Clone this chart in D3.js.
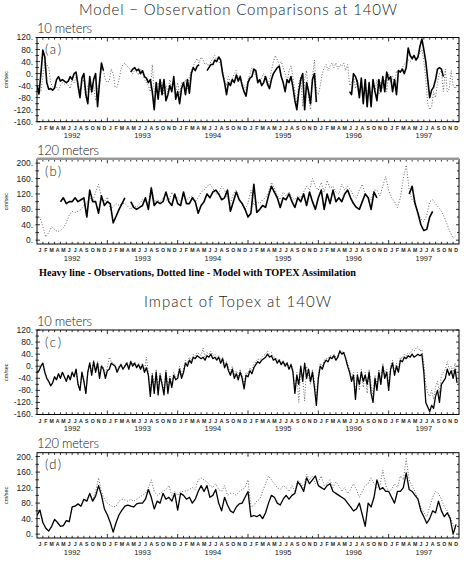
<!DOCTYPE html>
<html>
<head>
<meta charset="utf-8">
<script src="https://d3js.org/d3.v7.min.js"></script>
<style>
  body { margin: 0; background: #fff; }
  svg text { font-family: "Liberation Sans", Arial, sans-serif; }
  svg text.thin { font-family: Lato, "DejaVu Sans", sans-serif; font-weight: 300; }
</style>
</head>
<body>
<div id="viz"></div>
<script>
const monthLetters = ["J","F","M","A","M","J","J","A","S","O","N","D"];
const years = [1992, 1993, 1994, 1995, 1996, 1997];
const ticks10m = [-160, -120, -80, -40, 0, 40, 80, 120];
const ticks120m = [0, 40, 80, 120, 160, 200];

// (a) 10 m, observations, three values a month, null = no data
const obsA = [
  -40,-68,0,78,55,-30,-52,-50,-55,-48,-20,-10,-25,-20,-25,-30,-25,-10,-20,0,5,-40,-80,-15,0,-70,-100,-10,-60,-20,0,-110,-30,35,10,null,
  null,null,null,null,null,null,null,null,null,null,null,null,5,15,20,10,15,0,10,-10,-15,-30,-20,-60,-120,-30,-85,-20,-70,-20,-90,-70,-40,-60,-10,-85,
  -60,-100,-50,-30,-70,-20,-65,0,20,10,25,30,null,null,null,10,20,30,30,45,40,55,45,0,-30,-70,-30,-40,-20,-30,-5,-25,-10,-40,-60,-75,
  -30,-15,-10,15,10,-30,-20,-40,-30,-10,-35,-50,-20,0,10,20,25,-10,-30,-60,-20,-30,-10,-45,-90,-120,-60,-20,0,-120,-30,-60,-100,-20,0,-95,
  null,null,null,null,null,null,null,null,null,null,null,null,null,null,null,null,-60,-70,0,-10,-30,-80,-15,-100,-20,-110,-30,-110,-20,-60,-90,-20,-60,-10,-60,5,
  -20,-10,-60,-20,-70,10,5,15,0,20,85,60,50,60,45,55,90,115,80,40,-20,-80,-55,-45,-20,15,20,15,-10,null,null,null,null,null,null,null
];
// (a) 10 m, model with TOPEX assimilation
const modelA = [
  -30,-55,-60,-10,40,30,20,-30,-45,-50,-45,-55,-40,-30,-35,-30,-40,-50,-20,-30,-10,-30,-60,-30,-20,-80,-40,-30,-70,-40,-90,-50,-30,20,10,-20,
  -30,-25,15,0,-45,-45,-20,15,30,35,25,20,10,0,10,5,-5,15,5,-20,-30,-40,-60,30,-60,-50,-30,-60,-30,-70,-40,-60,-20,-50,-30,-60,
  -30,-70,-30,-40,-20,-50,-10,10,25,40,50,35,55,45,30,35,25,40,50,60,45,40,30,10,-20,-40,-10,-30,-15,0,10,-20,-5,-30,-40,-55,
  -20,0,20,10,-10,-20,-30,-15,0,-20,-40,-20,10,40,60,45,30,40,20,0,-30,10,25,-10,-60,-100,-30,-10,-110,-20,10,-80,-120,-10,45,-60,
  -70,-40,0,20,30,10,25,35,20,35,15,30,25,35,10,30,-40,-30,-10,-50,-20,-60,-30,-70,-20,-80,-40,-70,-30,-60,-20,-70,-30,-50,-20,-60,
  0,-30,-10,-40,10,0,10,20,30,40,45,40,45,55,50,60,70,80,40,-20,-100,-120,-110,-60,-80,-30,0,10,-60,15,-60,-50,10,-40,-50,-40
];
// (b) 120 m, observations, two values a month
const obsB = [
  null,null,null,null,null,null,null,null,100,110,95,100,100,110,100,105,110,60,130,100,100,70,115,90,
  100,95,45,62,80,95,110,null,100,85,80,85,90,110,80,135,90,100,95,100,125,100,90,120,
  95,90,125,95,95,110,100,70,90,100,120,110,125,130,120,105,110,130,75,100,125,105,95,80,
  60,70,145,72,80,90,85,115,140,125,110,85,110,105,120,100,85,110,100,120,90,125,100,80,
  110,130,80,120,95,130,100,110,100,120,130,110,95,85,80,100,120,110,80,125,110,null,null,null,
  null,null,null,null,null,null,null,120,140,95,70,40,25,28,60,75,null,null,null,null,null,null,null,null
];
// (b) 120 m, model with TOPEX assimilation
const modelB = [
  55,60,35,8,20,35,28,22,25,32,45,65,75,72,75,80,90,95,110,100,125,145,110,100,
  112,80,88,95,90,95,95,88,80,90,85,95,105,100,95,140,100,105,100,110,105,100,125,110,
  110,100,115,105,110,115,100,110,125,130,140,145,135,120,120,140,130,110,95,120,130,105,95,80,
  95,130,90,100,95,105,110,125,150,135,115,105,125,115,125,110,105,115,110,125,140,130,160,140,
  130,150,125,155,135,140,125,120,145,130,140,130,115,110,130,145,120,110,105,130,130,115,140,165,
  130,110,100,85,110,160,195,130,105,95,70,55,48,65,100,105,95,85,75,60,40,20,5,12
];
// (c) 10 m, heavy line, three values a month
const heavyC = [
  -20,-15,0,10,-20,-40,-50,-65,-55,-35,-45,-25,-40,-20,-35,-50,-30,-45,-20,-35,-10,-60,-80,-20,-50,-90,-20,10,-30,15,-20,10,-40,0,-10,-40,
  -15,-10,10,5,0,-20,-5,5,-10,0,10,-10,15,0,10,-5,5,-10,5,-20,-5,-30,-100,-30,-90,-20,-95,-30,-60,-95,-20,-90,-40,-70,-30,-45,
  -40,-10,-40,-20,10,0,20,10,30,25,35,30,25,30,20,35,30,40,25,30,20,30,10,25,-5,10,-15,-30,-10,-40,-25,-45,-20,-40,-75,-30,
  -35,-15,-25,-5,5,15,10,20,25,30,40,30,35,20,25,10,20,5,15,0,10,-10,5,-20,-90,-30,-60,0,-50,10,-40,-10,-50,-20,-70,-130,
  -40,0,-10,10,20,15,30,25,35,20,30,50,40,45,25,0,-20,-50,-30,-110,-30,-60,-20,-50,-30,-60,-20,-90,-120,-40,-80,-20,-60,0,-40,-20,
  -80,-10,10,-30,0,-20,20,15,30,25,35,30,40,30,35,40,35,40,-20,-120,-135,-150,-130,-140,-100,-80,-120,-60,-50,-40,-10,-30,-15,-40,-10,-55
];
// (c) 10 m, dotted line
const dottedC = [
  -20,-15,0,10,-20,-40,-50,-65,-55,-35,-45,-25,-40,-20,-35,-50,-30,-45,-20,-35,-10,-60,-80,-20,-50,-90,-20,15,-25,20,-15,15,-30,5,-5,-30,
  -5,30,15,10,5,-15,0,10,-5,5,15,-5,20,5,15,0,10,-5,10,-15,30,-20,-80,-20,-70,-10,-75,-20,-50,-80,-10,-75,-30,-60,-20,-35,
  -30,0,-30,-10,20,10,30,20,40,35,45,40,35,60,30,45,40,50,35,40,30,35,20,30,5,15,-5,-20,0,-30,-15,-35,-10,-30,-60,-20,
  -25,-5,-15,5,15,25,20,30,35,40,50,40,45,30,30,20,25,10,20,5,15,-5,10,-10,-80,-20,-120,-10,-40,-115,0,-30,-60,-10,-50,-100,
  -30,10,0,20,25,25,35,30,40,30,35,55,45,50,30,10,-10,-40,-20,-90,-20,-80,-10,-70,-20,-90,-10,-60,-100,-30,-60,-10,-50,10,-30,-10,
  -60,0,20,-20,10,-10,30,25,40,35,45,40,55,50,60,65,50,55,10,-60,-90,-100,-80,-110,-70,-50,-90,-30,-20,-10,15,-10,0,-20,10,-30
];
// (d) 120 m, heavy line, two values a month
const heavyD = [
  48,62,30,15,8,20,38,30,20,22,35,32,70,72,78,72,90,85,105,85,98,125,100,65,
  50,30,5,30,50,62,72,75,72,70,78,80,80,90,115,95,65,85,80,105,90,95,85,105,
  62,105,100,90,95,80,90,110,125,110,125,95,100,115,80,60,95,75,60,55,70,78,80,95,
  110,45,48,45,50,40,55,80,100,95,80,75,90,100,90,100,105,135,125,110,145,130,140,150,
  125,120,115,125,130,110,105,100,95,90,80,70,60,65,80,50,20,80,70,95,140,115,120,110,
  110,95,80,110,110,120,158,115,110,100,90,60,45,28,40,60,55,85,60,45,55,40,0,25
];
// (d) 120 m, dotted line
const dottedD = [
  48,62,30,15,8,20,38,30,20,22,35,32,70,72,78,72,90,85,105,88,110,145,110,90,
  80,75,70,72,85,90,88,85,90,85,90,95,100,105,120,140,110,100,105,110,115,125,100,110,
  100,110,110,112,115,120,115,140,145,140,135,125,120,130,115,110,125,100,105,105,100,110,115,120,
  140,70,75,85,90,110,130,150,140,130,120,115,125,120,110,125,110,140,130,120,155,140,150,130,
  135,150,125,130,140,120,135,125,110,120,105,115,130,115,95,110,125,130,145,130,120,125,165,125,
  110,115,130,120,150,140,195,140,125,110,90,70,55,45,70,95,110,105,90,70,60,45,25,10
];

const W = 464, H = 563;
const svg = d3.select("#viz").append("svg")
    .attr("width", W).attr("height", H)
    .style("background", "#fff");

const x = d3.scaleLinear().domain([0, 72]).range([37, 459]);

const panels = [
  {tag: "(a)", depth: "10 meters", depthLen: 55, top: 37.5, bot: 121.7, dom: [-160, 120], ticks: ticks10m,
   heavy: obsA, dotted: modelA, step: 1/3, hw: 1.6},
  {tag: "(b)", depth: "120 meters", depthLen: 62, top: 159.3, bot: 244, dom: [-10, 210], ticks: ticks120m,
   heavy: obsB, dotted: modelB, step: 1/2, hw: 1.6, grayTop: true},
  {tag: "(c)", depth: "10 meters", depthLen: 55, top: 330, bot: 414.5, dom: [-160, 120], ticks: ticks10m,
   heavy: heavyC, dotted: dottedC, step: 1/3, hw: 1.3},
  {tag: "(d)", depth: "120 meters", depthLen: 62, top: 452.7, bot: 538, dom: [-10, 210], ticks: ticks120m,
   heavy: heavyD, dotted: dottedD, step: 1/2, hw: 1.3}
];

// titles
svg.append("text").attr("class", "thin")
    .attr("x", 238).attr("y", 14.5)
    .attr("text-anchor", "middle")
    .attr("textLength", 318).attr("lengthAdjust", "spacing")
    .style("font-size", "15px").attr("fill", "#222")
    .text("Model \u2212 Observation Comparisons at 140W");

svg.append("text").attr("class", "thin")
    .attr("x", 237.5).attr("y", 307)
    .attr("text-anchor", "middle")
    .attr("textLength", 187).attr("lengthAdjust", "spacing")
    .style("font-size", "15px").attr("fill", "#222")
    .text("Impact of Topex at 140W");

svg.append("text")
    .attr("x", 39).attr("y", 276)
    .attr("textLength", 317).attr("lengthAdjust", "spacingAndGlyphs")
    .style("font-family", "'Liberation Serif', 'Times New Roman', serif")
    .style("font-size", "11px").style("font-weight", "bold")
    .text("Heavy line - Observations, Dotted line - Model with TOPEX Assimilation");

panels.forEach((p, pi) => {
    const y = d3.scaleLinear().domain(p.dom).range([p.bot, p.top]);
    const g = svg.append("g");

    const clipId = "clip" + pi;
    svg.append("clipPath").attr("id", clipId)
      .append("rect")
        .attr("x", x(0)).attr("y", p.top)
        .attr("width", x(72) - x(0)).attr("height", p.bot - p.top);

    // depth heading and panel tag
    g.append("text").attr("class", "thin")
        .attr("x", 37).attr("y", p.top - 4.5)
        .attr("textLength", p.depthLen).attr("lengthAdjust", "spacing")
        .style("font-size", "13px").attr("fill", "#222")
        .text(p.depth);

    g.append("text").attr("class", "thin")
        .attr("x", 45).attr("y", p.top + 16.5)
        .attr("textLength", 16).attr("lengthAdjust", "spacing")
        .style("font-size", "13px").attr("fill", "#222")
        .text(p.tag);

    // y tick labels
    g.selectAll(".ylab").data(p.ticks).join("text")
        .attr("x", 33).attr("y", d => y(d))
        .attr("dy", "0.35em")
        .attr("text-anchor", "end")
        .style("font-size", "8.5px").attr("fill", "#222")
        .text(d => d + ".");

    g.append("text")
        .attr("transform", `translate(8,${(p.top + p.bot) / 2}) rotate(-90)`)
        .attr("text-anchor", "middle")
        .style("font-size", "5.5px").attr("fill", "#222")
        .text("cm/sec");

    // y ticks, every 20, inward on both sides
    const yt = d3.range(Math.ceil(p.dom[0] / 20) * 20, p.dom[1] + 1, 20);
    g.selectAll(".ytl").data(yt).join("line")
        .attr("x1", x(0) - 1.5).attr("x2", d => x(0) + (d % 40 === 0 ? 3 : 2))
        .attr("y1", d => y(d)).attr("y2", d => y(d))
        .attr("stroke", "#000").attr("stroke-width", 0.8);
    g.selectAll(".ytr").data(yt).join("line")
        .attr("x1", x(72)).attr("x2", d => x(72) - (d % 40 === 0 ? 3 : 2))
        .attr("y1", d => y(d)).attr("y2", d => y(d))
        .attr("stroke", "#000").attr("stroke-width", 0.8);

    // month ticks top and bottom
    const mt = d3.range(1, 72);
    g.selectAll(".mtb").data(mt).join("line")
        .attr("x1", d => x(d)).attr("x2", d => x(d))
        .attr("y1", p.bot).attr("y2", d => p.bot - (d % 12 === 0 ? 4 : 2.2))
        .attr("stroke", "#000").attr("stroke-width", 0.8);
    g.selectAll(".mtt").data(mt).join("line")
        .attr("x1", d => x(d)).attr("x2", d => x(d))
        .attr("y1", p.top).attr("y2", d => p.top + (d % 12 === 0 ? 4 : 2.2))
        .attr("stroke", "#000").attr("stroke-width", 0.8);

    // month letters and years
    g.selectAll(".mlab").data(d3.range(72)).join("text")
        .attr("x", d => x(d + 0.5)).attr("y", p.bot + 8.3)
        .attr("text-anchor", "middle")
        .style("font-size", "5.2px").style("font-weight", "bold").attr("fill", "#222")
        .text(d => monthLetters[d % 12]);

    g.selectAll(".ylab2").data(years).join("text")
        .attr("x", (d, i) => x(i * 12 + 6)).attr("y", p.bot + 16.5)
        .attr("text-anchor", "middle")
        .style("font-size", "7.5px").attr("fill", "#222")
        .text(d => d);

    // data lines
    const line = d3.line()
        .defined(d => d.v !== null)
        .x(d => x(d.t))
        .y(d => y(d.v));

    const toPts = vals => vals.map((v, i) => ({t: i * p.step, v: v}));

    g.append("path")
        .datum(toPts(p.dotted))
        .attr("clip-path", `url(#${clipId})`)
        .attr("fill", "none")
        .attr("stroke", "#555")
        .attr("stroke-width", 0.9)
        .attr("stroke-dasharray", "1,1.8")
        .attr("d", line);

    g.append("path")
        .datum(toPts(p.heavy))
        .attr("clip-path", `url(#${clipId})`)
        .attr("fill", "none")
        .attr("stroke", "#000")
        .attr("stroke-width", p.hw)
        .attr("stroke-linejoin", "round")
        .attr("d", line);

    // frame
    g.append("rect")
        .attr("x", x(0)).attr("y", p.top)
        .attr("width", x(72) - x(0)).attr("height", p.bot - p.top)
        .attr("fill", "none").attr("stroke", "#000").attr("stroke-width", 1);

    if (p.grayTop) {
        g.append("line")
            .attr("x1", x(0)).attr("x2", x(72))
            .attr("y1", p.top - 0.5).attr("y2", p.top - 0.5)
            .attr("stroke", "#999").attr("stroke-width", 2.5);
    }
});
</script>
</body>
</html>
